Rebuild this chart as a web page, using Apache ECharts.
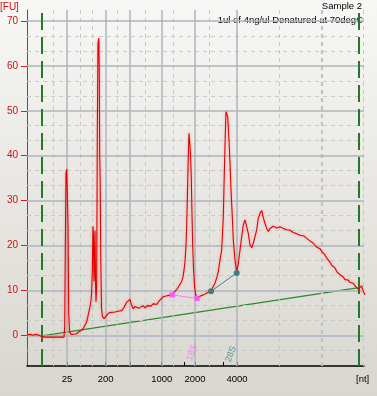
<!DOCTYPE html>
<html><head><meta charset="utf-8">
<script src="https://cdn.jsdelivr.net/npm/echarts@6/dist/echarts.min.js"></script>
<style>html,body{margin:0;padding:0;}#c{width:377px;height:396px;background:linear-gradient(#f7f7f5,#d8d6cf);}</style>
</head><body><div id="c"></div>
<script>
// Migration time (s) and fluorescence (FU) of the electropherogram
const timeSec = [15.0,15.6,16.2,16.8,17.4,18.0,18.8,19.6,20.6,21.6,22.4,22.54,22.66,22.8,22.94,23.1,23.2,23.34,23.5,23.8,24.2,24.8,25.4,26.0,26.4,26.94,27.2,27.4,27.74,27.9,28.06,28.2,28.3,28.4,28.5,28.6,28.7,28.8,28.94,29.06,29.2,29.36,29.46,29.54,29.64,29.74,29.9,30.1,30.4,30.8,31.26,31.8,32.2,32.6,33.0,33.4,33.94,34.4,34.94,35.3,35.6,35.84,36.26,36.6,37.0,37.4,37.8,38.2,38.6,39.0,39.4,39.8,40.2,40.6,41.0,41.4,41.8,42.26,42.6,43.0,43.4,43.8,44.06,44.4,44.94,45.3,45.6,45.94,46.2,46.4,46.6,46.8,46.94,47.1,47.26,47.4,47.54,47.7,47.86,48.0,48.14,48.3,48.5,48.7,49.0,49.4,49.8,50.26,50.8,51.2,51.6,52.0,52.3,52.6,52.94,53.26,53.6,53.94,54.26,54.46,54.66,54.8,54.96,55.14,55.4,55.6,55.8,56.06,56.26,56.6,56.94,57.26,57.6,57.94,58.26,58.6,58.94,59.26,59.6,59.94,60.26,60.6,60.94,61.26,61.6,61.94,62.26,62.6,62.94,63.26,63.6,63.94,64.26,64.6,64.94,65.26,65.6,65.94,66.26,66.6,66.94,67.26,67.6,67.94,68.26,68.6,68.94,69.26,69.6,70.0,70.4,70.94,71.4,71.8,72.26,72.6,73.0,73.6,74.0,74.3,74.6,74.94,75.26,75.6,75.94,76.26,76.6,76.94,77.26,77.6,77.94,78.26,78.6,78.94,79.26,79.6,79.94,80.26,80.6,80.94,81.26,81.6,81.94,82.2,82.6];
const fluorescence = [0.1,0.2,0.0,0.2,0.0,-0.3,-0.4,-0.4,-0.4,-0.4,-0.4,2,20,36,37.0,37.0,25,5,0.8,0.2,0.0,0.3,0.8,1.2,1.8,3.0,4.3,5.3,7.2,9.0,14,24.3,22,12,16,23.3,12,7.5,11,45,65.1,66.2,58,40,34,18,6,4.2,3.7,4.0,4.9,5.1,4.8,5.2,5.0,5.4,5.5,6.2,7.4,7.3,8.0,7.0,5.9,6.4,6.6,6.0,6.3,6.6,6.1,6.6,6.8,6.5,7.0,7.1,6.9,7.6,8.0,8.6,8.4,8.8,8.7,9.0,9.1,9.5,10.2,10.8,11.2,12.0,13.0,14.5,16.5,20,24.5,32,40,45.0,43,40.5,35,27,20,15,11,9.2,8.3,8.5,8.8,9.0,9.3,9.5,9.8,10.3,11.0,11.6,12.8,14.2,16.8,19.0,26.4,36.1,45,49.8,49.5,48.7,43.5,38.3,32.4,26.4,21.2,16.8,14.0,16.0,19.0,22.0,24.6,25.7,25.3,22.7,20.1,19.5,20.5,20.8,23.5,26.1,27.2,27.8,26.2,24.9,23.8,23.1,23.8,23.5,24.3,24.6,23.9,24.1,24.2,24.3,23.8,24.0,23.5,23.6,23.4,23.0,22.9,23.2,22.6,22.8,22.3,22.0,22.1,21.6,21.2,20.9,20.5,20.2,19.6,19.3,18.6,18.2,17.9,17.2,16.8,16.3,15.6,15.3,15.0,14.2,14.2,13.5,13.3,13.0,12.4,12.6,12.3,11.8,11.7,11.6,11.0,10.8,10.3,10.5,11.0,10.0,9.0];

// Axis ticks and labels
const xTickTimes = [23.0,30.74,35.6,41.94,46.4,48.6,54.2,57.0];
const xLabelTimes = [23.0,30.74,41.94,48.6,57.0];
const xLabelTexts = ['25','200','1000','2000','4000'];
const yLabelValues = [0,10,20,30,40,50,60,70];
const xSolidGrid = [23.0,30.74,35.6,41.94,48.6,57.0];
const xDashedGrid = [20.2,25.6,28.14,33.14,38.6,44.2,51.4,65.4,82.2];
const xDashedGridBold = [74.0];
const ySolidGrid = [0,10,20,30,40,50,60,70];
const yDashedGrid = [-3.33,3.33,6.67,13.33,16.67,23.33,26.67,33.33,36.67,43.33,46.67,53.33,56.67,63.33,66.67];

// Markers, baseline and fragment regions
const markerTimes = [18.0,81.4];
const baselineTimes = [18.0,81.4];
const baselineValues = [-0.15,10.6];
const region18STimes = [44.06,49.0];
const region18SValues = [9.0,8.2];
const region28STimes = [51.8,56.94];
const region28SValues = [9.8,13.9];
const fragLabels = ['18S','28S'];
const fragLabelTimes = [48.0,55.8];
const fragLabelValues = [-3.9,-4.2];

const FONT = 'Liberation Sans, Arial, sans-serif';
const pairs = (a,b) => a.map((v,i)=>[v,b[i]]);

const chart = echarts.init(document.getElementById('c'), null, {renderer:'canvas'});
const gridMark = (arr, axis, style) => arr.map(v => ({[axis]: v, lineStyle: style}));
const solidStyle = {color:'#aeb4bf', width:1.5, type:'solid'};
const dashStyle = {color:'#c8c8c8', width:1, type:[4,4]};
const dashBoldStyle = {color:'#c2c2c2', width:2.2, type:[4,4]};

chart.setOption({
  animation:false,
  backgroundColor:'transparent',
  grid:{left:27, right:13, top:10, bottom:30},
  xAxis:{
    type:'value', min:15, max:82.4,
    axisLine:{show:true, onZero:false, lineStyle:{color:'#000', width:1.5}},
    axisTick:{show:true, inside:true, length:4, customValues:xTickTimes, lineStyle:{color:'#000', width:1}},
    axisLabel:{show:true, customValues:xLabelTimes, margin:8, color:'#000', fontSize:9.5, fontFamily:FONT,
      formatter:v => { const i = xLabelTimes.findIndex(t => Math.abs(t-v)<1e-6); return i>=0 ? xLabelTexts[i] : ''; }},
    splitLine:{show:false}
  },
  yAxis:{
    type:'value', min:-6.84, max:72.45,
    axisLine:{show:true, onZero:false, lineStyle:{color:'#d42020', width:1}},
    axisTick:{show:true, length:6, customValues:yLabelValues, lineStyle:{color:'#d42020'}},
    axisLabel:{show:true, customValues:yLabelValues, margin:9, color:'#cc1111', fontSize:10, fontFamily:FONT},
    splitLine:{show:false}
  },
  graphic:[
    {type:'text', left:0, top:2, style:{text:'[FU]', fill:'#cc1111', font:'10px '+FONT}},
    {type:'text', right:15, top:1, style:{text:'Sample 2', fill:'#000', font:'9.5px '+FONT}},
    {type:'text', right:14, top:15, style:{text:'1ul of 4ng/ul Denatured at 70degC', fill:'#000', font:'9.5px '+FONT}},
    {type:'text', left:356, top:374, style:{text:'[nt]', fill:'#000', font:'9.5px '+FONT}}
  ],
  series:[
    {type:'line', data:[], z:1, silent:true,
      markLine:{silent:true, symbol:'none', label:{show:false}, animation:false,
        data:[].concat(
          gridMark(yDashedGrid,'yAxis',dashStyle),
          gridMark(xDashedGrid,'xAxis',dashStyle),
          gridMark(xDashedGridBold,'xAxis',dashBoldStyle),
          gridMark(ySolidGrid,'yAxis',solidStyle),
          gridMark(xSolidGrid,'xAxis',solidStyle))}},
    {type:'line', data:[], z:3, silent:true,
      markLine:{silent:true, symbol:'none', label:{show:false}, animation:false,
        data: markerTimes.map(t => ({xAxis:t, lineStyle:{color:'#237a23', width:2, type:[17,7]}}))}},
    {type:'line', data:pairs(baselineTimes, baselineValues), z:3, symbol:'none', silent:true,
      lineStyle:{color:'#2b8a2b', width:1.3}},
    {type:'line', data:pairs(timeSec, fluorescence), z:5, symbol:'none', clip:false, silent:true,
      lineStyle:{color:'#e00000', width:1.1, shadowColor:'rgba(255,70,70,0.5)', shadowBlur:3}},
    {type:'line', data:pairs(region18STimes, region18SValues), z:6, symbol:'rect', symbolSize:5, silent:true,
      lineStyle:{color:'#ff77ff', width:1}, itemStyle:{color:'#ff55ff'}},
    {type:'line', data:pairs(region28STimes, region28SValues), z:6, symbol:'circle', symbolSize:6, silent:true,
      lineStyle:{color:'#3c8080', width:1}, itemStyle:{color:'#3c8080'}},
    {type:'scatter', z:6, silent:true, symbolSize:0,
      data: fragLabels.map((n,i)=>({value:[fragLabelTimes[i], fragLabelValues[i]], name:n,
        label:{show:true, position:'inside', formatter:n, rotate:70, fontSize:9, fontFamily:FONT,
          color: i===0 ? '#ff66ff' : '#3c8080'}}))}
  ]
});
</script></body></html>
